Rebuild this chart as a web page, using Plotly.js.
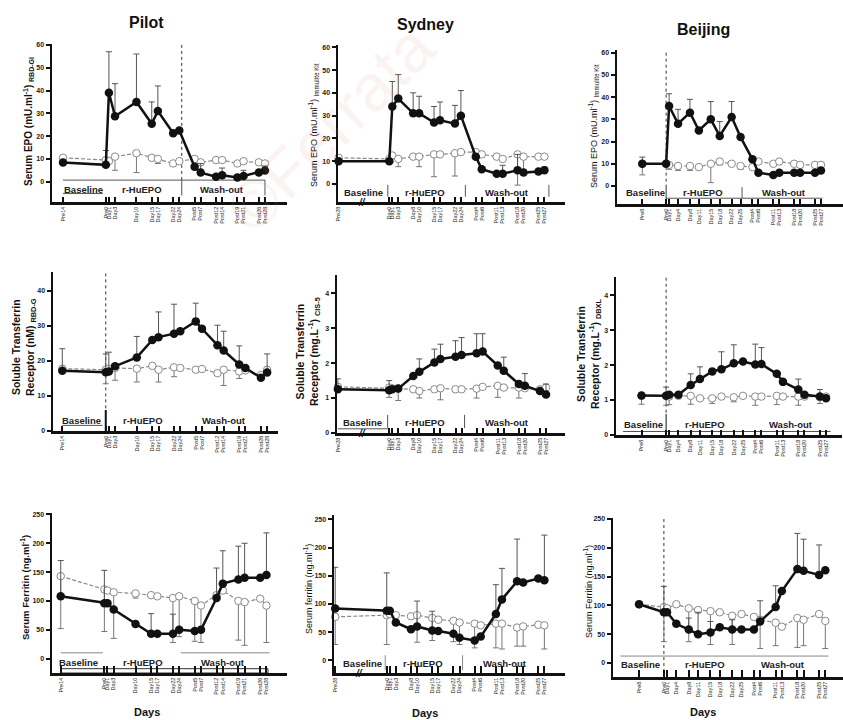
<!DOCTYPE html>
<html><head><meta charset="utf-8">
<script src="https://cdn.plot.ly/plotly-3.0.1.min.js"></script>
<style>body{margin:0;background:#fff}#chart{width:843px;height:720px}</style>
</head><body><div id="chart"></div><script>
// ---------- x positions (study day) and tick labels ----------
const pilotDays = [-14,0,1,3,10,15,17,22,24,29,31,36,38,43,45,50,52];
const pilotTicks = ["Pre14","Pre0","Day1","Day3","Day10","Day15","Day17","Day22","Day24","Post5","Post7","Post12","Post14","Post19","Post21","Post26","Post28"];
const sydneyDays = [-17,0,1,3,8,10,15,17,22,24,29,31,36,38,43,45,50,52];
const sydneyTicks = ["Pre28","Day0","Day1","Day3","Day8","Day10","Day15","Day17","Day22","Day24","Post4","Post6","Post11","Post13","Post18","Post20","Post25","Post27"];
const beijingDays = [-8,0,1,4,8,11,15,18,22,25,29,31,36,38,43,45,50,52];
const beijingTicks = ["Pre8","Pre0","Day1","Day4","Day8","Day11","Day15","Day18","Day22","Day25","Post4","Post6","Post11","Post13","Post18","Post20","Post25","Post27"];

// ---------- Serum EPO ----------
const epoPilotRhu   = [8.4,7.4,39,28.7,35,25.4,31,21.3,22.5,6.6,4,2.2,2.8,1.9,2.5,4,4.9];
const epoPilotRhuSD = [0,6.3,18,14.3,21,9.6,11,0,0,0,4,0,3.2,0,2.5,0,2];
const epoPilotPla   = [10.5,9.5,9,11,12.5,10.5,10,8,9,10,8.5,9.5,9.5,8,9,8.5,8];
const epoPilotPlaSD = [0,3,0,6,8.5,0,2,0,0,0,0,0,0,0,0,0,0];

const epoSydneyRhu   = [10,10,34,37.5,31,31,27,28,26.5,30,12,6.5,4.5,4.5,6,5,5.5,6];
const epoSydneyRhuSD = [0,0,11,10.5,9,7.5,7,8,8,11,0,0,0,3.7,7,0,0,1.5];
const epoSydneyPla   = [11.5,11,12.5,11,12,12,13,13,13.5,14,14,13,12,11,13,12,12,12];
const epoSydneyPlaSD = [0,0,0,3.4,0,4.4,9.8,0,10,0,0,0,0,0,13.5,7.6,0,0];

const epoBeijingRhu   = [10,10,36,28,33,25,30,22.5,31,22,12,6,5,6,6,6,6,7];
const epoBeijingRhuSD = [3,0,5.5,6.5,6,0,8,6.5,7,0,0,0,0,0,0,0,0,0];
const epoBeijingPla   = [10,10,9.5,9,9,8.5,10,11,10,9,8.5,11,10,11,10,9.5,9.5,9.5];
const epoBeijingPlaSD = [5,0,2,2,2,0,8.5,1.5,0,1.5,0,0,0,0,0,0,0,0];

// ---------- Soluble transferrin receptor ----------
const tfrPilotRhu   = [17.2,16.8,17,18.5,21,26,26.8,27.8,28.5,31.3,29.2,24.5,23,19,18,15.2,16.7];
const tfrPilotRhuSD = [6.3,5.2,5.5,0,6,0,7.2,8.4,0,5.2,0,5.7,5.5,5.3,0,0,5.3];
const tfrPilotPla   = [17.8,17.5,17.8,18,17.8,18.6,17.5,18.2,18,17.5,17.7,16.5,17.5,17,17.3,16,17.5];
const tfrPilotPlaSD = [0,4,0,3.5,3.8,0,3.5,2.7,0,0,0,0,4.5,2,0,0,0];

const tfrSydneyRhu   = [1.25,1.22,1.25,1.27,1.63,1.75,2.02,2.12,2.18,2.23,2.28,2.33,1.93,1.78,1.4,1.35,1.2,1.1];
const tfrSydneyRhuSD = [0.3,0.28,0,0,0,0.37,0.38,0.42,0.46,0.5,0.56,0.51,0,0.39,0,0.35,0,0.3];
const tfrSydneyPla   = [1.32,1.3,1.28,1.27,1.25,1.2,1.25,1.28,1.25,1.25,1.27,1.32,1.35,1.3,1.3,1.28,1.25,1.3];
const tfrSydneyPlaSD = [0,0.28,0,0.34,0,0.2,0,0.33,0,0,0.27,0,0.33,0,0.3,0,0,0];

const tfrBeijingRhu   = [1.13,1.12,1.15,1.15,1.43,1.6,1.82,1.88,2.05,2.1,2.02,2.03,1.75,1.52,1.3,1.15,1.1,1.05];
const tfrBeijingRhuSD = [0,0.25,0,0,0.32,0.35,0,0.5,0.53,0,0.58,0.47,0,0,0.3,0,0.2,0];
const tfrBeijingPla   = [1.12,1.12,1.1,1.12,1.12,1.05,1.05,1.1,1.08,1.12,1.1,1.1,1.12,1.1,1.1,1.1,1.08,1.1];
const tfrBeijingPlaSD = [0.24,0.27,0.23,0,0.24,0,0.15,0,0.13,0,0.25,0,0.25,0,0.25,0,0.18,0];

// ---------- Serum ferritin ----------
const ferPilotRhu   = [108,96,96,85,60,43,43,43,50,48,50,105,130,137,140,140,145];
const ferPilotRhuSD = [62,57,0,0,0,35,0,34,0,0,0,52,57,58,60,0,73];
const ferPilotPla   = [143,120,118,115,113,110,108,105,108,100,92,110,118,100,98,104,92];
const ferPilotPlaSD = [91,73,0,80,8,0,0,77,70,70,64,0,0,68,75,0,64];

const ferSydneyRhu   = [92,88,88,67,55,60,53,52,47,40,35,42,82,108,140,138,145,142];
const ferSydneyRhuSD = [73,67,0,0,0,45,34,0,0,0,0,0,52,55,75,0,0,80];
const ferSydneyPla   = [77,80,82,80,78,80,75,72,70,67,65,62,65,65,58,60,63,62];
const ferSydneyPlaSD = [49,52,0,0,0,48,40,0,37,39,43,0,43,45,33,35,0,42];

const ferBeijingRhu   = [102,88,88,68,58,50,53,62,58,58,58,72,97,125,163,160,153,161];
const ferBeijingRhuSD = [0,45,0,0,20,38,19,0,17,0,0,36,37,0,62,55,52,0];
const ferBeijingPla   = [102,97,95,102,95,92,90,88,82,85,80,75,70,63,78,75,85,73];
const ferBeijingPlaSD = [0,60,0,0,58,0,58,0,50,0,0,50,40,0,51,45,0,48];

const phaseNames = ["Baseline","r-HuEPO","Wash-out"];
const siteNames = ["Pilot","Sydney","Beijing"];

// ---------- build ----------
const W = 843, H = 720;
const FF = '"Liberation Sans", Arial, sans-serif';
const series = [
  [pilotDays, pilotTicks, epoPilotRhu, epoPilotRhuSD, epoPilotPla, epoPilotPlaSD],
  [sydneyDays, sydneyTicks, epoSydneyRhu, epoSydneyRhuSD, epoSydneyPla, epoSydneyPlaSD],
  [beijingDays, beijingTicks, epoBeijingRhu, epoBeijingRhuSD, epoBeijingPla, epoBeijingPlaSD],
  [pilotDays, pilotTicks, tfrPilotRhu, tfrPilotRhuSD, tfrPilotPla, tfrPilotPlaSD],
  [sydneyDays, sydneyTicks, tfrSydneyRhu, tfrSydneyRhuSD, tfrSydneyPla, tfrSydneyPlaSD],
  [beijingDays, beijingTicks, tfrBeijingRhu, tfrBeijingRhuSD, tfrBeijingPla, tfrBeijingPlaSD],
  [pilotDays, pilotTicks, ferPilotRhu, ferPilotRhuSD, ferPilotPla, ferPilotPlaSD],
  [sydneyDays, sydneyTicks, ferSydneyRhu, ferSydneyRhuSD, ferSydneyPla, ferSydneyPlaSD],
  [beijingDays, beijingTicks, ferBeijingRhu, ferBeijingRhuSD, ferBeijingPla, ferBeijingPlaSD]
];
const geo = [
  {px:[52,287],  py:[44,202],  xr:[-17.6,59.2], yr:[-8.9,60.4],  dt:10},
  {px:[338,565], py:[45,202],  xr:[-17.2,58.9], yr:[-7.9,61],    dt:10},
  {px:[617,843], py:[50,204],  xr:[-16.5,59.4], yr:[-8.1,61.2],  dt:10},
  {px:[53,278],  py:[272,431], xr:[-17,55.5],   yr:[0,45.4],     dt:10},
  {px:[337,565], py:[275,433], xr:[-17.3,58.3], yr:[0,4.52],     dt:1},
  {px:[616,842], py:[277,435], xr:[-16.3,57.2], yr:[0,4.52],     dt:1},
  {px:[52,287],  py:[513,673], xr:[-16.8,58.6], yr:[-25,252.5],  dt:50},
  {px:[334,565], py:[515,673], xr:[-17.4,58.8], yr:[-22.6,257.7],dt:50},
  {px:[613,843], py:[518,677], xr:[-16.4,57.7], yr:[-24.4,251.8],dt:50}
];
const phaseY = [-3.6,-3.8,-3,3,0.31,0.31,-6,-6,-2.3];
const phaseX = [[-7.4,11.7,38.1],[-8.5,12,39.5],[-7,12.5,39.5],[-7.8,12,38],[-8.8,12,39],[-7.5,12.5,40.5],[-8.4,12.3,38],[-8,12,39],[-7.6,13.3,38.5]];

function id(i){ return i===0 ? '' : String(i+1); }
const data = [], shapes = [], ann = [];
const layout = {width:W, height:H, margin:{l:0,r:0,t:0,b:0}, showlegend:false,
  paper_bgcolor:'#fff', plot_bgcolor:'rgba(0,0,0,0)', font:{family:FF, color:'#111'}};

function nanify(a){ return a.map(v => v ? v : NaN); }
function zeros(a){ return a.map(v => v ? 0 : NaN); }

series.forEach((s, i) => {
  const [xs, tk, rhu, rhuSD, pla, plaSD] = s;
  const g = geo[i];
  const k = id(i);
  layout['xaxis'+k] = {domain:[g.px[0]/W, g.px[1]/W], range:g.xr, anchor:'y'+k,
    showline:true, linewidth:2.5, linecolor:'#111', showgrid:false, zeroline:false,
    ticks:'inside', ticklen:(i>=6?7:5), tickwidth:2, tickcolor:'#111',
    tickmode:'array', tickvals:xs, ticktext:tk, tickangle:-90,
    tickfont:{size:5.5, family:FF, color:'#222'}, fixedrange:true};
  const tv = []; for(let v=0; v<=g.yr[1]+1e-9; v+=g.dt) tv.push(+v.toFixed(3));
  layout['yaxis'+k] = {domain:[1-g.py[1]/H, 1-g.py[0]/H], range:g.yr, anchor:'x'+k,
    showline:true, linewidth:2.5, linecolor:'#111', showgrid:false, zeroline:false,
    ticks:'outside', ticklen:4, tickwidth:2, tickcolor:'#111',
    tickmode:'array', tickvals:tv, tickfont:{size:7, family:FF, color:'#222', weight:'bold'}, fixedrange:true};
  data.push({x:xs, y:pla, xaxis:'x'+k, yaxis:'y'+k, type:'scatter', mode:'lines+markers', cliponaxis:false,
    line:{color:'#8a8a8a', width:1.2, dash:'4px,2px'},
    marker:{symbol:'circle', size:7.5, color:'#fff', line:{color:'#8a8a8a', width:1}},
    error_y:{type:'data', symmetric:false, array:zeros(plaSD), arrayminus:nanify(plaSD), color:'#777', thickness:1, width:3}});
  data.push({x:xs, y:rhu, xaxis:'x'+k, yaxis:'y'+k, type:'scatter', mode:'lines+markers', cliponaxis:false,
    line:{color:'#111', width:2.5},
    marker:{symbol:'circle', size:8.5, color:'#111'},
    error_y:{type:'data', symmetric:false, array:nanify(rhuSD), arrayminus:zeros(rhuSD), color:'#555', thickness:1, width:3}});
  phaseNames.forEach((p, j) => ann.push({xref:'x'+k, yref:'y'+k, x:phaseX[i][j], y:phaseY[i], text:p, showarrow:false,
    font:{size:9.5, family:FF, color:'#222', weight:'bold'}}));
});

function seg(i, x0, y0, x1, y1, opt){
  const k = id(i); opt = opt || {};
  shapes.push({type:opt.rect?'rect':'line', xref:'x'+k, yref:'y'+k, x0, y0, x1, y1,
    line:{color:opt.color||'#555', width:opt.w||1, dash:opt.dash||'solid'}, fillcolor:opt.rect?'#fff':undefined, layer:'below'});
}
// Pilot EPO
seg(0,-14,0.7,52,0.7); seg(0,24.8,0.7,24.8,-6); seg(0,52,0.7,52,-6); seg(0,-14,-5.2,-1,-5.2);
seg(0,24.8,60,24.8,0.7,{dash:'dot',color:'#333'});
// Sydney EPO
seg(1,-0.5,-0.4,-0.5,-5.6); seg(1,25.5,-0.4,25.5,-5.6); seg(1,53.5,-0.4,53.5,-5.6);
// Beijing EPO
seg(2,0,0,0,-8,{color:'#333'}); seg(2,25.5,-0.5,25.5,-5.5); seg(2,0,-5.5,52.5,-5.5);
seg(2,0,60,0,0,{dash:'dot',color:'#333'});
// Pilot sTfR
seg(3,-14,1.6,-1,1.6); seg(3,0,0,0,6,{color:'#111',w:2}); seg(3,0,45,0,6,{dash:'dot',color:'#333'});
// Sydney sTfR
seg(4,-0.5,0.52,-0.5,0.14); seg(4,25,0.52,25,0.14); seg(4,-17,0.12,-0.5,0.12);
// Beijing sTfR
seg(5,-14,0.1,53.5,0.1); seg(5,0,0,0,0.6,{color:'#111'}); seg(5,0,4.5,0,0.6,{dash:'dot',color:'#333'});
// Pilot ferritin
seg(6,-14,10,-0.5,10,{color:'#888'}); seg(6,24.5,10,53,10,{color:'#888'});
seg(6,-14,-17.5,52.5,-25,{rect:true,color:'#333'});
// Sydney ferritin
seg(7,-0.5,9,-0.5,-17.8,{color:'#888'}); seg(7,25,9,25,-17.8,{color:'#888'});
// Beijing ferritin
seg(8,-14,12,53,12,{color:'#888'}); seg(8,0,250,0,-24,{dash:'dot',color:'#333'});

// axis break marks (Sydney)
[[1,-7.9],[4,0],[7,-22.6]].forEach(([i,y]) => ann.push({xref:'x'+id(i), yref:'y'+id(i), x:-9, y:y, text:'<b><i>//</i></b>',
  showarrow:false, font:{size:10, family:FF, color:'#111', weight:'bold'}}));

function pann(x, y, text, size, opt){
  opt = opt || {};
  ann.push({xref:'paper', yref:'paper', x:x/W, y:1-y/H, xanchor:'center', yanchor:'middle', text, showarrow:false,
    textangle:opt.angle||0, font:{size, family:FF, color:opt.color||'#111', weight:opt.weight||'normal'}});
}
// watermark
pann(330, 128, '©Ferrata', 66, {angle:-45, color:'rgba(205,140,125,0.10)'});
// site titles
pann(146, 22, siteNames[0], 16, {weight:'bold'});
pann(425, 25, siteNames[1], 16, {weight:'bold'});
pann(703, 30, siteNames[2], 16, {weight:'bold'});
// Days
pann(147, 712, 'Days', 11, {weight:'bold'});
pann(425, 713, 'Days', 11, {weight:'bold'});
pann(703, 712, 'Days', 11, {weight:'bold'});
// y titles
pann(28, 122, 'Serum EPO (mU.ml<sup>-1</sup>) <sub>RBD-GI</sub>', 10, {angle:-90, weight:'bold'});
pann(313, 125, 'Serum EPO (mU.ml<sup>-1</sup>) <sub>Immulite Kit</sub>', 9, {angle:-90});
pann(593, 126, 'Serum EPO (mU.ml<sup>-1</sup>) <sub>Immulite Kit</sub>', 9, {angle:-90});
pann(24, 347, 'Soluble Transferrin<br>Receptor (nM) <sub>RBD-G</sub>', 10.5, {angle:-90, weight:'bold'});
pann(308, 352, 'Soluble Transferrin<br>Receptor (mg.L<sup>-1</sup>) <sub>CIS-5</sub>', 10.5, {angle:-90, weight:'bold'});
pann(589, 354, 'Soluble Transferrin<br>Receptor (mg.L<sup>-1</sup>) <sub>DBXL</sub>', 10.5, {angle:-90, weight:'bold'});
pann(25, 588, 'Serum Ferritin (ng.ml<sup>-1</sup>)', 9.5, {angle:-90, weight:'bold'});
pann(308, 589, 'Serum ferritin (ng.ml<sup>-1</sup>)', 9, {angle:-90});
pann(588, 592, 'Serum Ferritin (ng.ml<sup>-1</sup>)', 9, {angle:-90});

layout.shapes = shapes;
layout.annotations = ann;
Plotly.newPlot('chart', data, layout, {staticPlot:true, displayModeBar:false});
</script></body></html>
